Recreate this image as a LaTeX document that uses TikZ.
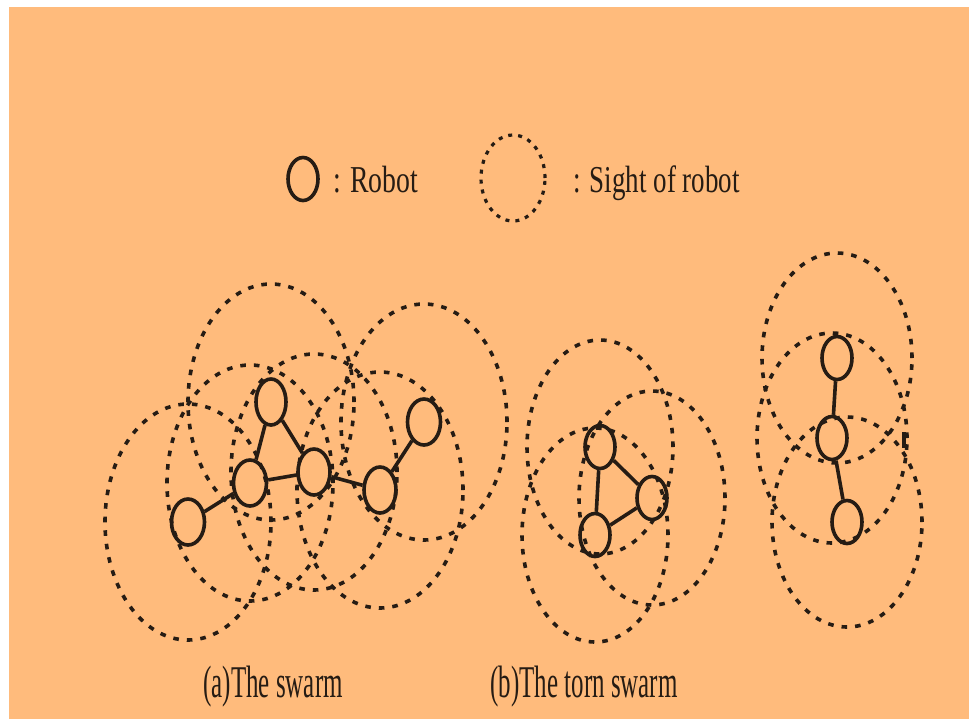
\documentclass[tikz,border=0pt]{standalone}
\usepackage{fontspec}
\setmainfont{Liberation Serif}
\usepackage{graphicx}
\usetikzlibrary{shapes.geometric}
\definecolor{peach}{RGB}{255,187,124}
\definecolor{ink}{RGB}{38,28,20}

\begin{document}
\begin{tikzpicture}[
    x=0.5pt, y=-0.5pt,
    robot/.style={draw=ink, line width=1.8pt, ellipse, inner sep=0pt, minimum width=16.5pt, minimum height=23pt},
    small/.style={robot, minimum width=15pt, minimum height=21.5pt},
    sight/.style={draw=ink, line width=1.8pt, dash pattern=on 2.8pt off 4pt},
    keysight/.style={sight, line width=1.6pt, dash pattern=on 2pt off 3pt},
    link/.style={draw=ink, line width=1.8pt},
    legend/.style={anchor=base west, inner sep=0pt, text=ink, font=\fontsize{19}{22}\selectfont},
    caption/.style={anchor=base west, inner sep=0pt, text=ink, font=\fontsize{22.7}{26}\selectfont}
]
\useasboundingbox (0,0) rectangle (969,719);
\fill[white] (0,0) rectangle (969,719);
\fill[peach] (9,7) rectangle (969,719);

\node[small] (key1) at (303,179) {};
\node[legend] (keytext1) at (333,192) {\scalebox{0.73}[1]{: Robot}};
\node[keysight, ellipse, minimum width=32pt, minimum height=43pt] (key2) at (513,178) {};
\node[legend] (keytext2) at (573,192) {\scalebox{0.71}[1]{: Sight of robot}};

\node[robot] (r1) at (188,522) {};
\node[robot] (r2) at (250,483) {};
\node[robot, minimum width=15pt] (r3) at (271,402) {};
\node[robot, minimum width=16pt] (r4) at (314,472) {};
\node[robot, minimum width=16pt] (r5) at (380,490) {};
\node[robot] (r6) at (424,422) {};
\foreach \r in {r1,r2,r3,r4,r5,r6}
    \draw[sight] (\r.center) ellipse [x radius=41.5pt, y radius=59pt];
\draw[link] (r1) -- (r2) (r2) -- (r3) (r2) -- (r4) (r3) -- (r4) (r4) -- (r5) (r5) -- (r6);

\node[small] (t1) at (600,447) {};
\node[small] (t2) at (652,498) {};
\node[small] (t3) at (595,535) {};
\foreach \t in {t1,t2,t3}
    \draw[sight] (\t.center) ellipse [x radius=36.5pt, y radius=53.5pt];
\draw[link] (t1) -- (t2) (t1) -- (t3) (t2) -- (t3);

\node[small] (u1) at (837,358) {};
\node[small] (u2) at (832,438) {};
\node[small] (u3) at (847,522) {};
\foreach \u in {u1,u2,u3}
    \draw[sight] (\u.center) ellipse [x radius=37.5pt, y radius=52.5pt];
\draw[link] (u1) -- (u2) (u2) -- (u3);
\draw[link] (904,432) -- (904,448);

\node[caption] (capa) at (203,697) {\scalebox{0.55}[1]{(a)The swarm}};
\node[caption] (capb) at (490,697) {\scalebox{0.55}[1]{(b)The torn swarm}};
\end{tikzpicture}
\end{document}
